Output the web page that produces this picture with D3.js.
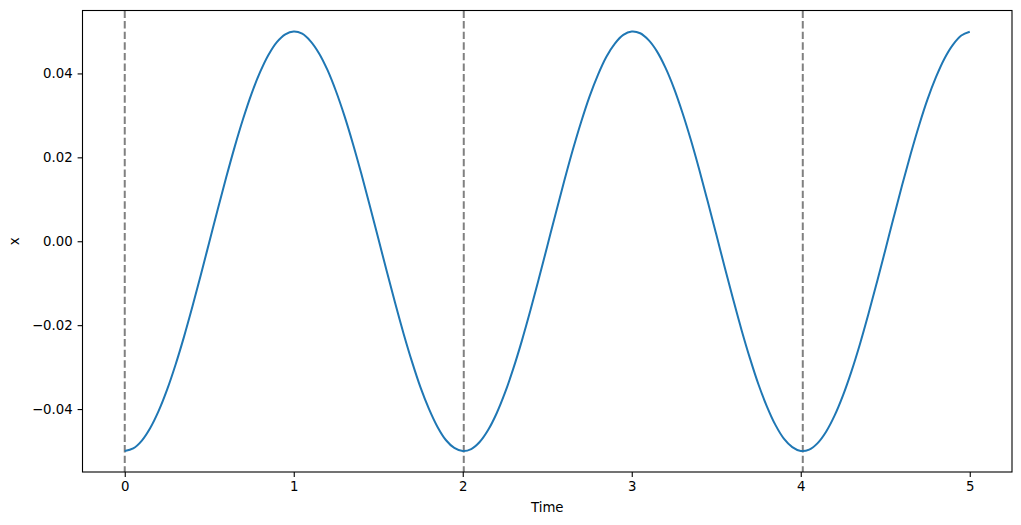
<!DOCTYPE html>
<html><head><meta charset="utf-8">
<script src="https://cdn.jsdelivr.net/npm/d3@7"></script>
<style>body{margin:0;background:#fff}svg{display:block}text{font-family:"DejaVu Sans",sans-serif}</style>
</head><body><svg id="c" width="1021" height="525"></svg>
<script>
const times = [0,0.05,0.1,0.15,0.2,0.25,0.3,0.35,0.4,0.45,0.5,0.55,0.6,0.65,0.7,0.75,0.8,0.85,0.9,0.95,
  1.0,1.05,1.1,1.15,1.2,1.25,1.3,1.35,1.4,1.45,1.5,1.55,1.6,1.65,1.7,1.75,1.8,1.85,1.9,1.95,
  2.0,2.05,2.1,2.15,2.2,2.25,2.3,2.35,2.4,2.45,2.5,2.55,2.6,2.65,2.7,2.75,2.8,2.85,2.9,2.95,
  3.0,3.05,3.1,3.15,3.2,3.25,3.3,3.35,3.4,3.45,3.5,3.55,3.6,3.65,3.7,3.75,3.8,3.85,3.9,3.95,
  4.0,4.05,4.1,4.15,4.2,4.25,4.3,4.35,4.4,4.45,4.5,4.55,4.6,4.65,4.7,4.75,4.8,4.85,4.9,4.95,5.0];
const xValues = [-0.05,-0.04939,-0.04757,-0.04458,-0.0405,-0.03544,-0.0295,-0.02285,-0.01563,-0.00803,-0.00023,0.00757,0.01518,0.02244,0.02913,0.03514,0.04023,0.04439,0.04747,0.04933,
  0.05,0.04947,0.04766,0.04477,0.04077,0.03575,0.02988,0.02326,0.01608,0.00848,0.0007,-0.00711,-0.01473,-0.02203,-0.02875,-0.03483,-0.03995,-0.04419,-0.04737,-0.04926,
  -0.05,-0.04953,-0.04785,-0.045,-0.04105,-0.0361,-0.03025,-0.02368,-0.01653,-0.00895,-0.00117,0.00664,0.01428,0.02161,0.02837,0.03448,0.03967,0.04398,0.04712,0.04919,
  0.04999,0.04958,0.04793,0.0452,0.04131,0.03644,0.03063,0.02412,0.01698,0.0094,0.00165,-0.00618,-0.01383,-0.02119,-0.02798,-0.03415,-0.0394,-0.04377,-0.04704,-0.04906,
  -0.04998,-0.04965,-0.04811,-0.0454,-0.04158,-0.03674,-0.03101,-0.02454,-0.01742,-0.00988,-0.00212,0.0057,0.01338,0.02074,0.0276,0.0338,0.0391,0.04351,0.04681,0.04903,0.04995];
const periodMarks = [0, 2.006, 4.012];
const xTicks = [0,1,2,3,4,5];
const yTicks = [-0.04,-0.02,0.00,0.02,0.04];

const svg = d3.select("#c");
const L=82.5, R=1012, T=10.5, B=472;
const x = d3.scaleLinear().domain([-0.25,5.25]).range([L,R]);
const y = d3.scaleLinear().domain([-0.055,0.055]).range([B,T]);

svg.append("g").selectAll("line").data(periodMarks).join("line")
  .attr("x1",d=>x(d)).attr("x2",d=>x(d)).attr("y1",T).attr("y2",B)
  .attr("stroke","#808080").attr("stroke-width",2).attr("stroke-dasharray","7.4,3.2");

const line = d3.line().x((d,i)=>x(times[i])).y(d=>y(d)).curve(d3.curveCatmullRom.alpha(0.5));
svg.append("path").attr("d",line(xValues)).attr("fill","none")
  .attr("stroke","#1f77b4").attr("stroke-width",2);

const fmt = d=> (d<0?"\u2212":"")+Math.abs(d).toFixed(2);
const xa = svg.append("g").attr("transform",`translate(0,${B})`)
  .call(d3.axisBottom(x).tickValues(xTicks).tickFormat(d3.format("d")).tickSize(4.9).tickPadding(4.9));
const ya = svg.append("g").attr("transform",`translate(${L},0)`)
  .call(d3.axisLeft(y).tickValues(yTicks).tickFormat(fmt).tickSize(4.9).tickPadding(4.9));
[xa,ya].forEach(a=>{a.select(".domain").remove();a.selectAll("line").attr("stroke","#000").attr("stroke-width",1.1);
  a.selectAll("text").attr("font-size","13.3px").attr("fill","#000").style("font-family","DejaVu Sans");});

svg.append("rect").attr("x",L).attr("y",T).attr("width",R-L).attr("height",B-T)
  .attr("fill","none").attr("stroke","#000").attr("stroke-width",1.1);

svg.append("text").attr("x",(L+R)/2).attr("y",512).attr("text-anchor","middle")
  .attr("font-size","13.3px").text("Time");
svg.append("text").attr("transform",`translate(19,${(T+B)/2}) rotate(-90)`).attr("text-anchor","middle")
  .attr("font-size","13.3px").text("x");
</script></body></html>
